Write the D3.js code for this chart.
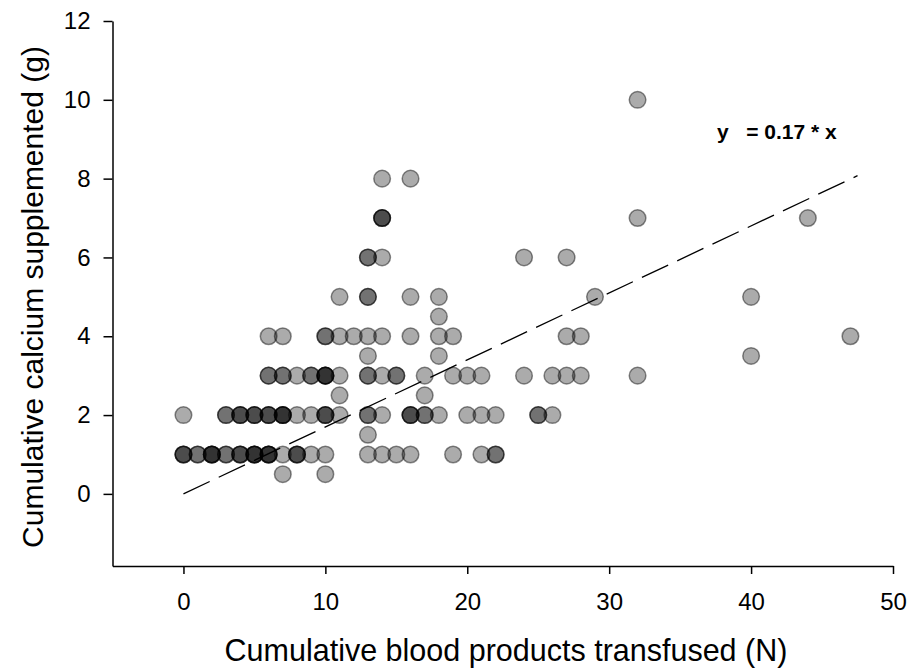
<!DOCTYPE html>
<html><head><meta charset="utf-8">
<script src="https://cdn.jsdelivr.net/npm/d3@7/dist/d3.min.js"></script>
<style>body{margin:0;background:#fff}svg{display:block}text{font-family:"Liberation Sans",Arial,sans-serif}</style>
</head><body><svg id="c" width="916" height="670"></svg>
<script>
// Cumulative blood products transfused (N)
const transfused = [7,10, 0,1,2,3,4,5,6,7,8,9,10,13,14,15,16,19,21,22, 13,
  0,3,4,5,6,7,8,9,10,11,13,14,16,17,18,20,21,22,25,26, 11,17,
  6,7,8,9,10,11,13,14,15,17,19,20,21,24,26,27,28,32, 13,18,40,
  6,7,10,11,12,13,14,16,18,19,27,28,47, 18, 11,13,16,18,29,40,
  13,14,24,27, 14,32,44, 14,16, 32];
// Cumulative calcium supplemented (g)
const calcium = [0.5,0.5, 1,1,1,1,1,1,1,1,1,1,1,1,1,1,1,1,1,1, 1.5,
  2,2,2,2,2,2,2,2,2,2,2,2,2,2,2,2,2,2,2,2, 2.5,2.5,
  3,3,3,3,3,3,3,3,3,3,3,3,3,3,3,3,3,3, 3.5,3.5,3.5,
  4,4,4,4,4,4,4,4,4,4,4,4,4, 4.5, 5,5,5,5,5,5,
  6,6,6,6, 7,7,7, 8,8, 10];
// number of patients sharing the same point (overlapping markers)
const overlap = [1,1, 3,2,4,2,3,4,4,1,3,1,1,1,1,1,1,1,1,2, 1,
  1,2,3,3,3,4,1,1,3,1,2,1,3,2,1,1,1,1,2,1, 1,1,
  2,2,1,2,4,1,2,1,2,1,1,1,1,1,1,1,1,1, 1,1,1,
  1,1,2,1,1,1,1,1,1,1,1,1,1, 1, 1,2,1,1,1,1,
  2,1,1,1, 3,1,1, 1,1, 1];
const xTicks = [0,10,20,30,40,50];
const yTicks = [0,2,4,6,8,10,12];
const slope = 0.17;
const fitRange = [0, 47.5];
const equation = "y   = 0.17 * x";
const xTitle = "Cumulative blood products transfused (N)";
const yTitle = "Cumulative calcium supplemented (g)";

const svg = d3.select("#c");
const x = d3.scaleLinear().domain([-5, 50]).range([112.5, 893]);
const y = d3.scaleLinear().domain([-1.83, 12]).range([566, 21]);

const pts = [];
transfused.forEach((v, i) => { for (let k = 0; k < overlap[i]; k++) pts.push({x: v, y: calcium[i]}); });

svg.append("g").selectAll("circle").data(pts).join("circle")
  .attr("cx", d => x(d.x)).attr("cy", d => y(d.y)).attr("r", 8.3)
  .attr("fill", "#000").attr("fill-opacity", 0.33)
  .attr("stroke", "#000").attr("stroke-opacity", 0.45).attr("stroke-width", 1.5);

svg.append("line")
  .attr("x1", x(fitRange[0])).attr("y1", y(slope * fitRange[0]))
  .attr("x2", x(fitRange[1])).attr("y2", y(slope * fitRange[1]))
  .attr("stroke", "#000").attr("stroke-width", 1.3).attr("stroke-dasharray", "29,10");

const xa = svg.append("g").attr("transform", "translate(0,566)")
  .call(d3.axisBottom(x).tickValues(xTicks).tickSize(8).tickPadding(19).tickSizeOuter(0));
const ya = svg.append("g").attr("transform", "translate(112.5,0)")
  .call(d3.axisLeft(y).tickValues(yTicks).tickSize(9).tickPadding(13).tickSizeOuter(0));
[xa, ya].forEach(a => {
  a.select(".domain").attr("stroke", "#000").attr("stroke-width", 1.5);
  a.selectAll(".tick line").attr("stroke", "#000").attr("stroke-width", 1.5);
  a.selectAll(".tick text").attr("font-size", 24).attr("fill", "#000")
    .style("font-family", '"Liberation Sans", Arial, sans-serif');
});

svg.append("text").attr("x", 717).attr("y", 139).attr("font-size", 21).attr("font-weight", "bold")
  .attr("xml:space", "preserve").style("white-space", "pre").text(equation);

svg.append("text").attr("x", 506).attr("y", 661).attr("text-anchor", "middle")
  .attr("font-size", 30.5).text(xTitle);
svg.append("text").attr("transform", "translate(43,297) rotate(-90)").attr("text-anchor", "middle")
  .attr("font-size", 30).text(yTitle);
</script></body></html>
